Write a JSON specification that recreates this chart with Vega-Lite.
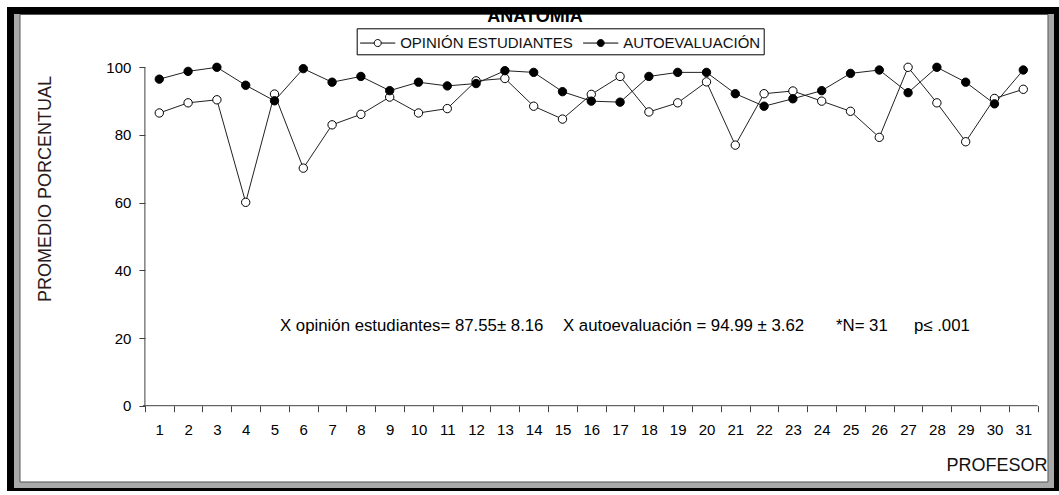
{
  "$schema": "https://vega.github.io/schema/vega-lite/v6.json",
  "autosize": "none",
  "width": 1052,
  "height": 484,
  "padding": {"left": 7, "top": 7, "right": 0, "bottom": 4},
  "background": "white",
  "config": {
    "view": {"stroke": null},
    "font": "Liberation Sans",
    "axis": {"grid": false, "labelOverlap": false, "labelFlush": false, "labelBound": false}
  },
  "data": {
    "values": [
      {"profesor": 1, "serie": "OPINIÓN ESTUDIANTES", "valor": 86.5},
      {"profesor": 2, "serie": "OPINIÓN ESTUDIANTES", "valor": 89.5},
      {"profesor": 3, "serie": "OPINIÓN ESTUDIANTES", "valor": 90.4},
      {"profesor": 4, "serie": "OPINIÓN ESTUDIANTES", "valor": 60.1},
      {"profesor": 5, "serie": "OPINIÓN ESTUDIANTES", "valor": 92.1},
      {"profesor": 6, "serie": "OPINIÓN ESTUDIANTES", "valor": 70.2},
      {"profesor": 7, "serie": "OPINIÓN ESTUDIANTES", "valor": 83.0},
      {"profesor": 8, "serie": "OPINIÓN ESTUDIANTES", "valor": 86.1},
      {"profesor": 9, "serie": "OPINIÓN ESTUDIANTES", "valor": 91.2},
      {"profesor": 10, "serie": "OPINIÓN ESTUDIANTES", "valor": 86.5},
      {"profesor": 11, "serie": "OPINIÓN ESTUDIANTES", "valor": 87.8},
      {"profesor": 12, "serie": "OPINIÓN ESTUDIANTES", "valor": 96.0},
      {"profesor": 13, "serie": "OPINIÓN ESTUDIANTES", "valor": 96.7},
      {"profesor": 14, "serie": "OPINIÓN ESTUDIANTES", "valor": 88.5},
      {"profesor": 15, "serie": "OPINIÓN ESTUDIANTES", "valor": 84.7},
      {"profesor": 16, "serie": "OPINIÓN ESTUDIANTES", "valor": 92.0},
      {"profesor": 17, "serie": "OPINIÓN ESTUDIANTES", "valor": 97.3},
      {"profesor": 18, "serie": "OPINIÓN ESTUDIANTES", "valor": 86.8},
      {"profesor": 19, "serie": "OPINIÓN ESTUDIANTES", "valor": 89.5},
      {"profesor": 20, "serie": "OPINIÓN ESTUDIANTES", "valor": 95.7},
      {"profesor": 21, "serie": "OPINIÓN ESTUDIANTES", "valor": 77.0},
      {"profesor": 22, "serie": "OPINIÓN ESTUDIANTES", "valor": 92.2},
      {"profesor": 23, "serie": "OPINIÓN ESTUDIANTES", "valor": 93.0},
      {"profesor": 24, "serie": "OPINIÓN ESTUDIANTES", "valor": 90.0},
      {"profesor": 25, "serie": "OPINIÓN ESTUDIANTES", "valor": 87.0},
      {"profesor": 26, "serie": "OPINIÓN ESTUDIANTES", "valor": 79.3},
      {"profesor": 27, "serie": "OPINIÓN ESTUDIANTES", "valor": 100.0},
      {"profesor": 28, "serie": "OPINIÓN ESTUDIANTES", "valor": 89.5},
      {"profesor": 29, "serie": "OPINIÓN ESTUDIANTES", "valor": 78.0},
      {"profesor": 30, "serie": "OPINIÓN ESTUDIANTES", "valor": 90.8},
      {"profesor": 31, "serie": "OPINIÓN ESTUDIANTES", "valor": 93.5},
      {"profesor": 1, "serie": "AUTOEVALUACIÓN", "valor": 96.5},
      {"profesor": 2, "serie": "AUTOEVALUACIÓN", "valor": 98.8},
      {"profesor": 3, "serie": "AUTOEVALUACIÓN", "valor": 100.0},
      {"profesor": 4, "serie": "AUTOEVALUACIÓN", "valor": 94.7},
      {"profesor": 5, "serie": "AUTOEVALUACIÓN", "valor": 90.1},
      {"profesor": 6, "serie": "AUTOEVALUACIÓN", "valor": 99.6},
      {"profesor": 7, "serie": "AUTOEVALUACIÓN", "valor": 95.6},
      {"profesor": 8, "serie": "AUTOEVALUACIÓN", "valor": 97.3},
      {"profesor": 9, "serie": "AUTOEVALUACIÓN", "valor": 93.1},
      {"profesor": 10, "serie": "AUTOEVALUACIÓN", "valor": 95.6},
      {"profesor": 11, "serie": "AUTOEVALUACIÓN", "valor": 94.5},
      {"profesor": 12, "serie": "AUTOEVALUACIÓN", "valor": 95.2},
      {"profesor": 13, "serie": "AUTOEVALUACIÓN", "valor": 99.0},
      {"profesor": 14, "serie": "AUTOEVALUACIÓN", "valor": 98.5},
      {"profesor": 15, "serie": "AUTOEVALUACIÓN", "valor": 92.8},
      {"profesor": 16, "serie": "AUTOEVALUACIÓN", "valor": 90.0},
      {"profesor": 17, "serie": "AUTOEVALUACIÓN", "valor": 89.7},
      {"profesor": 18, "serie": "AUTOEVALUACIÓN", "valor": 97.3},
      {"profesor": 19, "serie": "AUTOEVALUACIÓN", "valor": 98.5},
      {"profesor": 20, "serie": "AUTOEVALUACIÓN", "valor": 98.5},
      {"profesor": 21, "serie": "AUTOEVALUACIÓN", "valor": 92.2},
      {"profesor": 22, "serie": "AUTOEVALUACIÓN", "valor": 88.5},
      {"profesor": 23, "serie": "AUTOEVALUACIÓN", "valor": 90.7},
      {"profesor": 24, "serie": "AUTOEVALUACIÓN", "valor": 93.1},
      {"profesor": 25, "serie": "AUTOEVALUACIÓN", "valor": 98.2},
      {"profesor": 26, "serie": "AUTOEVALUACIÓN", "valor": 99.2},
      {"profesor": 27, "serie": "AUTOEVALUACIÓN", "valor": 92.5},
      {"profesor": 28, "serie": "AUTOEVALUACIÓN", "valor": 100.0},
      {"profesor": 29, "serie": "AUTOEVALUACIÓN", "valor": 95.6},
      {"profesor": 30, "serie": "AUTOEVALUACIÓN", "valor": 89.2},
      {"profesor": 31, "serie": "AUTOEVALUACIÓN", "valor": 99.2}
    ]
  },
  "layer": [
    {
      "description": "outer black window frame",
      "data": {"values": [{}]},
      "mark": {"type": "rect", "fill": "black"},
      "encoding": {
        "x": {"datum": -4.288, "type": "quantitative"},
        "x2": {"datum": 32.24},
        "y": {"datum": -25.21, "type": "quantitative"},
        "y2": {"datum": 117.82}
      }
    },
    {
      "description": "grey bevel inside the frame",
      "data": {"values": [{}]},
      "mark": {"type": "rect", "fill": "#a9a9a9"},
      "encoding": {
        "x": {"datum": -4.045, "type": "quantitative"},
        "x2": {"datum": 32.066},
        "y": {"datum": -24.32, "type": "quantitative"},
        "y2": {"datum": 115.75}
      }
    },
    {
      "description": "white chart surface",
      "data": {"values": [{}]},
      "mark": {"type": "rect", "fill": "white", "stroke": "#555555", "strokeWidth": 1},
      "encoding": {
        "x": {"datum": -3.837, "type": "quantitative"},
        "x2": {"datum": 31.858},
        "y": {"datum": -22.55, "type": "quantitative"},
        "y2": {"datum": 115.6}
      }
    },
    {
      "description": "x axis line",
      "data": {"values": [{}]},
      "mark": {"type": "rule", "stroke": "#404040", "strokeWidth": 1},
      "encoding": {
        "x": {"datum": 0.434, "type": "quantitative"},
        "x2": {"datum": 31.5},
        "y": {"datum": 0, "type": "quantitative"}
      }
    },
    {
      "description": "y axis line",
      "data": {"values": [{}]},
      "mark": {"type": "rule", "stroke": "#404040", "strokeWidth": 1},
      "encoding": {
        "x": {"datum": 0.5, "type": "quantitative"},
        "y": {"datum": 0, "type": "quantitative"},
        "y2": {"datum": 100}
      }
    },
    {
      "mark": {"type": "line", "stroke": "#222222", "strokeWidth": 1},
      "encoding": {
        "x": {"field": "profesor", "type": "quantitative"},
        "y": {"field": "valor", "type": "quantitative"},
        "detail": {"field": "serie"}
      }
    },
    {
      "mark": {"type": "point", "shape": "circle", "size": 70, "stroke": "black", "strokeWidth": 1, "opacity": 1, "filled": true},
      "encoding": {
        "x": {
          "field": "profesor",
          "type": "quantitative",
          "scale": {"domain": [-4.288, 32.24], "nice": false, "zero": false},
          "axis": {
            "orient": "bottom",
            "zindex": 2,
            "offset": -85.3,
            "domain": false,
            "tickCount": 40,
            "values": [0.5, 1.5, 2.5, 3.5, 4.5, 5.5, 6.5, 7.5, 8.5, 9.5, 10.5, 11.5, 12.5, 13.5, 14.5, 15.5, 16.5, 17.5, 18.5, 19.5, 20.5, 21.5, 22.5, 23.5, 24.5, 25.5, 26.5, 27.5, 28.5, 29.5, 30.5, 31.5],
            "labelExpr": "datum.value < 31 ? format(datum.value + 0.5, 'd') : ''",
            "labelOffset": 14.4,
            "labelPadding": 11,
            "labelFont": "Liberation Sans",
            "labelFontSize": 15,
            "labelColor": "black",
            "labelOverlap": false,
            "labelFlush": false,
            "labelBound": false,
            "tickSize": 6,
            "tickColor": "#404040",
            "title": "PROFESOR",
            "titleFont": "Liberation Sans",
            "titleFontSize": 18,
            "titleFontWeight": "normal",
            "titleColor": "#111111",
            "titleAnchor": null,
            "titleAlign": "right",
            "titleBaseline": "alphabetic",
            "titleX": 1040,
            "titleY": 64.5
          }
        },
        "y": {
          "field": "valor",
          "type": "quantitative",
          "scale": {"domain": [-25.21, 117.82], "nice": false, "zero": false},
          "axis": {
            "orient": "left",
            "zindex": 2,
            "offset": -137.9,
            "domain": false,
            "values": [0, 20, 40, 60, 80, 100],
            "labelPadding": 8,
            "labelFont": "Liberation Sans",
            "labelFontSize": 15,
            "labelColor": "black",
            "tickSize": 6,
            "tickColor": "#404040",
            "title": "PROMEDIO PORCENTUAL",
            "titleFont": "Liberation Sans",
            "titleFontSize": 18,
            "titleFontWeight": "normal",
            "titleColor": "#2a1a1a",
            "titleAngle": 270,
            "titleAlign": "center",
            "titleBaseline": "middle",
            "titleX": -98.9,
            "titleY": 181.5
          }
        },
        "fill": {
          "field": "serie",
          "type": "nominal",
          "scale": {"domain": ["OPINIÓN ESTUDIANTES", "AUTOEVALUACIÓN"], "range": ["white", "black"]},
          "legend": {
            "orient": "none",
            "direction": "horizontal",
            "legendX": 349.7,
            "legendY": 21.3,
            "zindex": 3,
            "title": null,
            "strokeColor": "black",
            "fillColor": "white",
            "padding": 3,
            "cornerRadius": 0,
            "columnPadding": 7,
            "labelFont": "Liberation Sans",
            "labelFontSize": 15,
            "labelColor": "#111111",
            "labelLimit": 400,
            "labelOffset": 11,
            "symbolOffset": 6.5,
            "symbolType": "M-1.6,0H-0.32M0.32,0H1.6M0.32,0A0.32,0.32 0 1,1 -0.32,0A0.32,0.32 0 1,1 0.32,0Z",
            "symbolSize": 484,
            "symbolStrokeColor": "black",
            "symbolStrokeWidth": 1,
            "symbolOpacity": 1
          }
        }
      }
    },
    {
      "data": {"values": [{}]},
      "mark": {"type": "text", "align": "left", "baseline": "alphabetic", "font": "Liberation Sans", "fontSize": 16.8, "color": "black", "text": "X opinión estudiantes= 87.55± 8.16"},
      "encoding": {"x": {"datum": 5.191, "type": "quantitative"}, "y": {"datum": 22.1, "type": "quantitative"}}
    },
    {
      "data": {"values": [{}]},
      "mark": {"type": "text", "align": "left", "baseline": "alphabetic", "font": "Liberation Sans", "fontSize": 16.8, "color": "black", "text": "X autoevaluación =  94.99 ± 3.62"},
      "encoding": {"x": {"datum": 15.017, "type": "quantitative"}, "y": {"datum": 22.1, "type": "quantitative"}}
    },
    {
      "data": {"values": [{}]},
      "mark": {"type": "text", "align": "left", "baseline": "alphabetic", "font": "Liberation Sans", "fontSize": 16.8, "color": "black", "text": "*N= 31"},
      "encoding": {"x": {"datum": 24.497, "type": "quantitative"}, "y": {"datum": 22.1, "type": "quantitative"}}
    },
    {
      "data": {"values": [{}]},
      "mark": {"type": "text", "align": "left", "baseline": "alphabetic", "font": "Liberation Sans", "fontSize": 16.8, "color": "black", "text": "p≤ .001"},
      "encoding": {"x": {"datum": 27.205, "type": "quantitative"}, "y": {"datum": 22.1, "type": "quantitative"}}
    },
    {
      "description": "chart title, its top tucked under the frame",
      "data": {"values": [{}]},
      "mark": {"type": "text", "align": "center", "baseline": "alphabetic", "font": "Liberation Sans", "fontSize": 18, "fontWeight": "bold", "color": "black", "text": "ANATOMIA"},
      "encoding": {"x": {"datum": 14.045, "type": "quantitative"}, "y": {"datum": 113.4, "type": "quantitative"}}
    },
    {
      "description": "top band of the frame",
      "data": {"values": [{}]},
      "mark": {"type": "rect", "fill": "black"},
      "encoding": {
        "x": {"datum": -4.288, "type": "quantitative"},
        "x2": {"datum": 32.24},
        "y": {"datum": 115.75, "type": "quantitative"},
        "y2": {"datum": 117.82}
      }
    }
  ]
}
